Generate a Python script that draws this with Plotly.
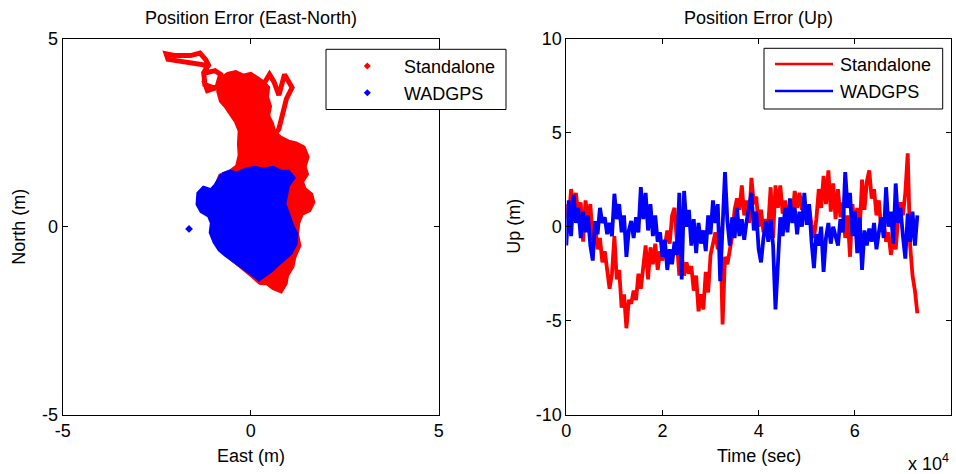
import plotly.graph_objects as go

# ---------------- data: Up error time series (time in units of 10^4 s) ----------------
TIME = [0.00,0.05,0.10,0.15,0.20,0.25,0.30,0.35,0.40,0.45,
        0.50,0.55,0.60,0.65,0.70,0.75,0.80,0.85,0.90,0.95,
        1.00,1.05,1.10,1.15,1.20,1.25,1.30,1.35,1.40,1.45,
        1.50,1.55,1.60,1.65,1.70,1.75,1.80,1.85,1.90,1.95,
        2.00,2.05,2.10,2.15,2.20,2.25,2.30,2.35,2.40,2.45,
        2.50,2.55,2.60,2.65,2.70,2.75,2.80,2.85,2.90,2.95,
        3.00,3.05,3.10,3.15,3.20,3.25,3.30,3.35,3.40,3.45,
        3.50,3.55,3.60,3.65,3.70,3.75,3.80,3.85,3.90,3.95,
        4.00,4.05,4.10,4.15,4.20,4.25,4.30,4.35,4.40,4.45,
        4.50,4.55,4.60,4.65,4.70,4.75,4.80,4.85,4.90,4.95,
        5.00,5.05,5.10,5.15,5.20,5.25,5.30,5.35,5.40,5.45,
        5.50,5.55,5.60,5.65,5.70,5.75,5.80,5.85,5.90,5.95,
        6.00,6.05,6.10,6.15,6.20,6.25,6.30,6.35,6.40,6.45,
        6.50,6.55,6.60,6.65,6.70,6.75,6.80,6.85,6.90,6.95,
        7.00,7.05,7.10,7.15,7.20,7.25,7.30]

UP_STANDALONE = [1.2,0.4,2.0,1.1,1.8,0.6,1.3,-0.8,1.4,0.3,
                 1.2,-0.7,0.1,-1.2,-0.6,-1.9,-1.3,-2.4,-3.3,-2.5,
                 -0.5,-2.8,-2.3,-4.3,-3.6,-5.4,-3.9,-4.1,-3.4,-3.9,
                 -2.5,-3.3,-2.3,-1.0,-2.8,-1.1,-2.0,-0.9,-2.3,-1.3,
                 -1.8,-1.1,-0.2,-0.9,0.6,1.0,-0.5,-2.6,-1.5,-2.6,
                 -1.9,-2.5,-2.1,-3.4,-2.6,-4.5,-3.6,-4.4,-2.4,-3.5,
                 -1.5,-1.0,-0.3,-1.2,0.0,-5.2,-1.6,-2.0,-1.2,-0.5,
                 0.9,1.5,0.9,2.2,0.6,1.4,0.2,2.6,1.2,1.6,
                 0.0,0.9,-0.3,0.4,0.1,2.1,-0.6,2.2,1.0,2.2,
                 0.7,1.4,0.2,1.2,0.5,1.9,1.0,1.8,0.9,1.1,
                 0.3,1.0,0.1,-0.6,0.4,2.0,1.0,2.7,1.2,3.0,
                 0.8,2.3,0.4,2.0,0.5,1.3,-0.6,0.6,-1.6,1.2,
                 0.0,1.0,-0.3,2.5,0.9,2.4,3.0,1.5,2.0,0.6,
                 1.4,-0.2,0.3,-0.8,-0.3,-1.5,-0.6,-1.2,0.4,1.3,
                 0.6,1.8,3.9,-1.0,-2.6,-3.4,-4.6]

UP_WADGPS = [-1.0,1.4,-0.5,1.7,0.2,1.0,-0.6,0.8,-0.3,0.6,
             -1.0,-1.8,0.3,-0.4,1.0,0.2,0.5,-0.4,0.2,-0.5,
             1.75,0.4,1.2,-0.3,0.6,-1.6,-0.2,0.3,-0.6,0.5,
             -0.3,2.1,0.4,1.8,-0.2,1.2,-0.5,0.6,-0.8,-0.3,
             -1.6,-0.7,-2.3,-1.2,-2.0,-0.8,-1.5,1.8,-2.8,1.9,
             0.0,0.9,-1.0,0.4,-1.4,0.2,-0.9,-0.2,-1.3,0.6,
             -0.4,1.4,0.2,1.2,-2.9,0.5,2.9,0.3,-1.0,0.5,
             -0.6,1.0,-0.5,0.4,-0.7,0.3,1.0,1.8,-0.2,0.8,
             -1.2,-1.9,-0.6,0.3,-0.8,0.4,-1.0,-4.4,-2.0,0.5,
             -0.5,1.0,-0.3,1.5,0.2,1.0,-0.4,0.8,0.0,1.8,
             0.1,1.2,-0.8,-2.2,-0.4,-1.0,0.0,-2.4,-0.6,0.2,
             -0.9,0.0,-0.5,-1.0,0.4,-0.3,2.9,1.0,1.8,-0.5,
             0.8,-1.4,0.5,-2.3,-0.2,-1.0,-0.1,-0.8,0.2,-1.2,
             -0.3,0.5,-0.6,2.1,0.0,0.8,-0.9,2.3,0.2,1.0,
             -0.5,-1.7,0.7,-0.8,0.8,-1.0,0.6]

# ---------------- data: East-North position error (m) ----------------
SA_BODY_E = [-0.75,-0.60,-0.40,-0.20,0.00,0.15,0.30,0.45,0.42,0.50,0.45,0.55,0.62,0.80,1.00,1.20,
             1.40,1.50,1.42,1.48,1.35,1.42,1.60,1.65,1.55,1.35,1.25,1.22,1.28,1.15,1.10,0.95,
             0.92,0.80,0.60,0.45,0.25,0.05,-0.15,-0.30,-0.50,-0.65,-0.72,-0.78,-0.80,-0.85,
             -0.90,-0.80,-0.55,-0.35,-0.28,-0.30,-0.28,-0.38,-0.50,-0.65,-0.78,-0.85,-0.80,-0.75]
SA_BODY_N = [3.95,4.05,4.10,4.00,4.05,3.95,3.85,3.70,3.45,3.20,2.95,2.75,2.50,2.35,2.25,2.20,
             2.10,1.85,1.60,1.40,1.20,1.00,0.85,0.65,0.45,0.35,0.10,-0.20,-0.50,-0.80,-1.05,-1.30,
             -1.50,-1.70,-1.62,-1.50,-1.48,-1.30,-1.15,-1.00,-0.85,-0.70,-0.40,0.00,0.40,0.80,
             1.10,1.35,1.45,1.60,1.90,2.20,2.55,2.80,3.00,3.20,3.35,3.60,3.80,3.95]

SA_PATH_E = [-0.75,-1.00,-1.22,-1.25,-1.12,-1.20,-1.35,-1.60,-2.00,-2.25,-2.20,-1.80,-1.45,-1.22,
             -1.15,-0.95,-0.80,-0.90,-1.15,-1.25, None,
             0.35,0.50,0.62,0.75,0.90,1.10,0.95,0.85,0.75,0.60]
SA_PATH_N = [3.70,3.70,3.78,4.10,4.30,4.45,4.62,4.55,4.55,4.60,4.45,4.40,4.35,4.30,
             4.10,4.15,4.05,3.70,3.62,3.90, None,
             3.80,4.05,3.85,3.50,4.05,3.70,3.40,3.00,2.60,2.40]

WA_BODY_E = [-0.75,-0.55,-0.35,-0.15,0.10,0.35,0.60,0.80,1.00,1.12,0.98,0.92,0.88,0.98,1.08,1.20,
             1.18,1.05,0.85,0.70,0.55,0.40,0.22,0.05,-0.10,-0.30,-0.48,-0.65,-0.82,-0.95,-1.05,
             -1.02,-1.10,-1.30,-1.40,-1.38,-1.25,-1.05,-0.92,-0.82,-0.75]
WA_BODY_N = [1.38,1.45,1.40,1.50,1.55,1.50,1.55,1.45,1.45,1.30,1.10,0.85,0.60,0.35,0.05,-0.20,
             -0.45,-0.70,-0.85,-1.00,-1.15,-1.25,-1.38,-1.25,-1.15,-1.00,-0.88,-0.75,-0.60,-0.40,-0.15,
             0.10,0.30,0.42,0.60,0.88,1.02,0.95,1.10,1.25,1.38]

WA_STRAY_E = [-1.64]
WA_STRAY_N = [-0.06]

EN_TICKS = [-5, 0, 5]
TIME_TICKS = [0, 2, 4, 6, 8]
UP_TICKS = [-10, -5, 0, 5, 10]
SERIES = ["Standalone", "WADGPS"]

# ---------------- figure ----------------
W, H = 956, 474
def px(x):
    return x / W
def py(y):
    return 1 - y / H

FONT = "Liberation Sans, Arial, sans-serif"
RED, BLUE = "#ff0000", "#0000ff"

fig = go.Figure()

# left: East-North
fig.add_trace(go.Scatter(x=SA_BODY_E, y=SA_BODY_N, mode="lines", fill="toself",
                         fillcolor=RED, line=dict(color=RED, width=5),
                         xaxis="x", yaxis="y", showlegend=False, hoverinfo="skip"))
fig.add_trace(go.Scatter(x=SA_PATH_E, y=SA_PATH_N, mode="lines",
                         line=dict(color=RED, width=5),
                         xaxis="x", yaxis="y", showlegend=False, hoverinfo="skip"))
fig.add_trace(go.Scatter(x=WA_BODY_E, y=WA_BODY_N, mode="lines", fill="toself",
                         fillcolor=BLUE, line=dict(color=BLUE, width=5),
                         xaxis="x", yaxis="y", showlegend=False, hoverinfo="skip"))
fig.add_trace(go.Scatter(x=WA_STRAY_E, y=WA_STRAY_N, mode="markers",
                         marker=dict(color=BLUE, size=6, symbol="diamond"),
                         xaxis="x", yaxis="y", showlegend=False, hoverinfo="skip"))

# right: Up
fig.add_trace(go.Scatter(x=TIME, y=UP_STANDALONE, mode="lines", name=SERIES[0],
                         line=dict(color=RED, width=3.8),
                         xaxis="x2", yaxis="y2", showlegend=False))
fig.add_trace(go.Scatter(x=TIME, y=UP_WADGPS, mode="lines", name=SERIES[1],
                         line=dict(color=BLUE, width=3.8),
                         xaxis="x2", yaxis="y2", showlegend=False))

ax_common = dict(showline=True, linecolor="black", linewidth=1, mirror="allticks",
                 ticks="inside", ticklen=5, tickcolor="black", tickwidth=1,
                 showgrid=False, zeroline=False, automargin=False,
                 tickfont=dict(family=FONT, size=18, color="black"))

def ticks(vals):
    return dict(tickvals=vals, ticktext=[str(v) for v in vals])

ydom = [1 - 414.7 / H, 1 - 38.7 / H]
fig.update_layout(
    width=W, height=H, margin=dict(l=0, r=0, t=0, b=0, autoexpand=False),
    paper_bgcolor="white", plot_bgcolor="white", showlegend=False,
    xaxis=dict(domain=[px(62.7), px(438.7)], range=[-5, 5], anchor="y",
               **ticks(EN_TICKS), **ax_common),
    yaxis=dict(domain=ydom, range=[-5, 5], anchor="x", **ticks(EN_TICKS), **ax_common),
    xaxis2=dict(domain=[px(566.3), px(951)], range=[0, 8], anchor="y2",
                **ticks(TIME_TICKS), **ax_common),
    yaxis2=dict(domain=ydom, range=[-10, 10], anchor="x2", **ticks(UP_TICKS), **ax_common),
)

def text(t, x, y, xanchor="center", yanchor="middle", size=18, angle=0):
    fig.add_annotation(text=t, x=px(x), y=py(y), xref="paper", yref="paper",
                       xanchor=xanchor, yanchor=yanchor, showarrow=False, textangle=angle,
                       font=dict(family=FONT, size=size, color="black"))

text("Position Error (East-North)", 250.7, 17.5)
text("Position Error (Up)", 758.5, 17.5)
text("East (m)", 250.7, 456)
text("Time (sec)", 758.5, 456)
text("North (m)", 19, 226.7, angle=-90)
text("Up (m)", 514, 226.7, angle=-90)
text("x 10<sup>4</sup>", 906, 462, xanchor="left")

# legends (drawn)
def rect(x0, y0, x1, y1):
    fig.add_shape(type="rect", xref="paper", yref="paper", x0=px(x0), x1=px(x1),
                  y0=py(y0), y1=py(y1), line=dict(color="black", width=1),
                  fillcolor="white", layer="above")

rect(326, 49.3, 506, 109.5)
for i, (name, col) in enumerate(zip(SERIES, [RED, BLUE])):
    yy = 66 + i * 26.7
    s = 3.5
    path = (f"M {px(367.3 - s)} {py(yy)} L {px(367.3)} {py(yy - s)} "
            f"L {px(367.3 + s)} {py(yy)} L {px(367.3)} {py(yy + s)} Z")
    fig.add_shape(type="path", xref="paper", yref="paper", path=path,
                  fillcolor=col, line=dict(color=col, width=0), layer="above")
    text(name, 401.7, yy + 1, xanchor="left")

rect(764, 48.3, 942.7, 109)
for i, (name, col) in enumerate(zip(SERIES, [RED, BLUE])):
    yy = 64 + i * 27
    fig.add_shape(type="line", xref="paper", yref="paper", x0=px(775), x1=px(833),
                  y0=py(yy), y1=py(yy), line=dict(color=col, width=2.5), layer="above")
    text(name, 838, yy + 1, xanchor="left")

fig.write_html("out.html", config={"displayModeBar": False},
               post_script="document.body.style.margin='0px';document.body.style.overflow='hidden';")
